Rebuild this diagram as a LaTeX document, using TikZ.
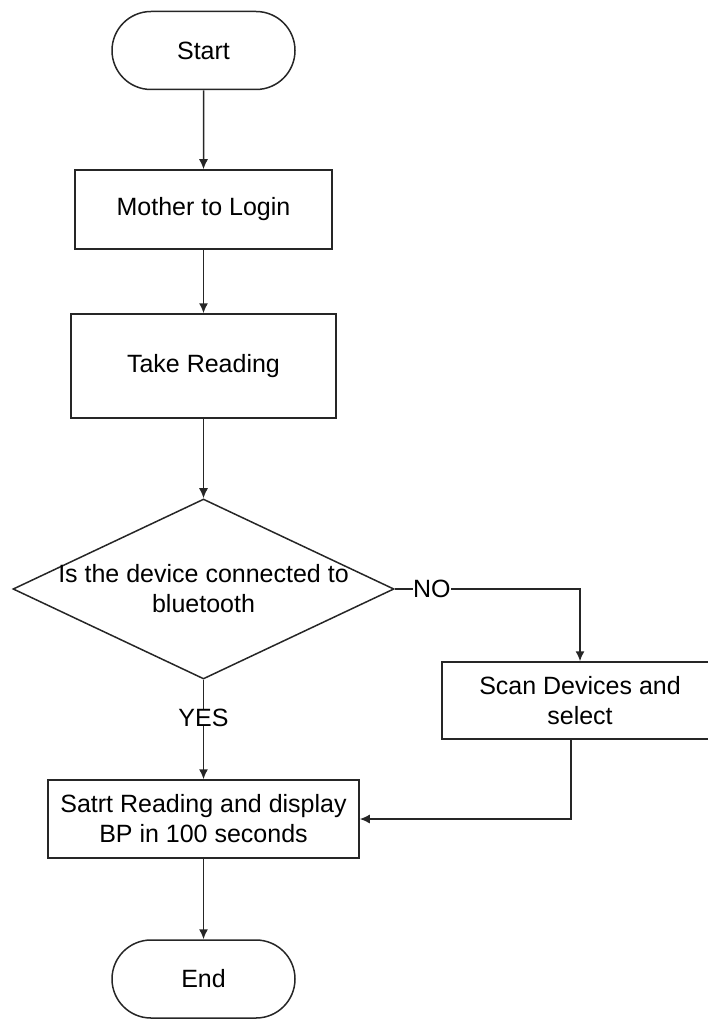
\documentclass[tikz,border=0pt]{standalone}
\usepackage{fontspec}
\setmainfont{Liberation Sans}
\usetikzlibrary{arrows.meta,shapes.geometric,shapes.misc,positioning}

\begin{document}
\begin{tikzpicture}[x=1pt,y=-1pt,line width=1.5pt,draw=black!85,font=\fontsize{25}{30}\selectfont,>={Latex[length=10pt,width=9pt]}]
	\tikzstyle{terminal} = [rounded rectangle, draw, minimum width=183pt, minimum height=78pt, inner sep=0pt]
	\tikzstyle{process} = [rectangle, draw, fill=white, align=center, inner sep=0pt]
	\tikzstyle{decision} = [diamond, draw, minimum width=381pt, minimum height=180pt, inner sep=0pt]
	\tikzstyle{branch} = [fill=white, inner sep=0pt]

	\useasboundingbox (0,0) rectangle (708,1019);
	\clip (0,0) rectangle (708,1019);

	% Start and first steps
	\node (start) [terminal] at (203.5,50.5) {Start};
	\node (login) [process, minimum width=257pt, minimum height=79pt] at (203.5,209.5) {Mother to Login};
	\node (take) [process, minimum width=265pt, minimum height=104pt] at (203.5,366) {Take Reading};

	% Bluetooth check
	\node (dec) [decision] at (203.5,589) {};
	\node (dectext) [align=center, inner sep=0pt] at (203.5,589) {Is the device connected to\\bluetooth};
	\node (scan) [process, minimum width=276pt, minimum height=77pt] at (580,700.5) {Scan Devices and\\select};

	% Reading and end
	\node (show) [process, minimum width=311pt, minimum height=78pt] at (203.5,819) {Satrt Reading and display\\BP in 100 seconds};
	\node (stop) [terminal] at (203.5,979) {End};

	\draw[->] (start) -- (login);
	\draw[->] (login) -- (take);
	\draw[->] (take) -- (dec);
	\draw[->] (dec) -- node[branch, pos=0.38] {YES} (show);
	\draw[->] (dec.east) -- node[branch, pos=0.2] {NO} (scan.north |- dec.east) -- (scan.north);
	\draw[->] ([xshift=-9pt]scan.south) |- (show.east);
	\draw[->] (show) -- (stop);
\end{tikzpicture}
\end{document}
